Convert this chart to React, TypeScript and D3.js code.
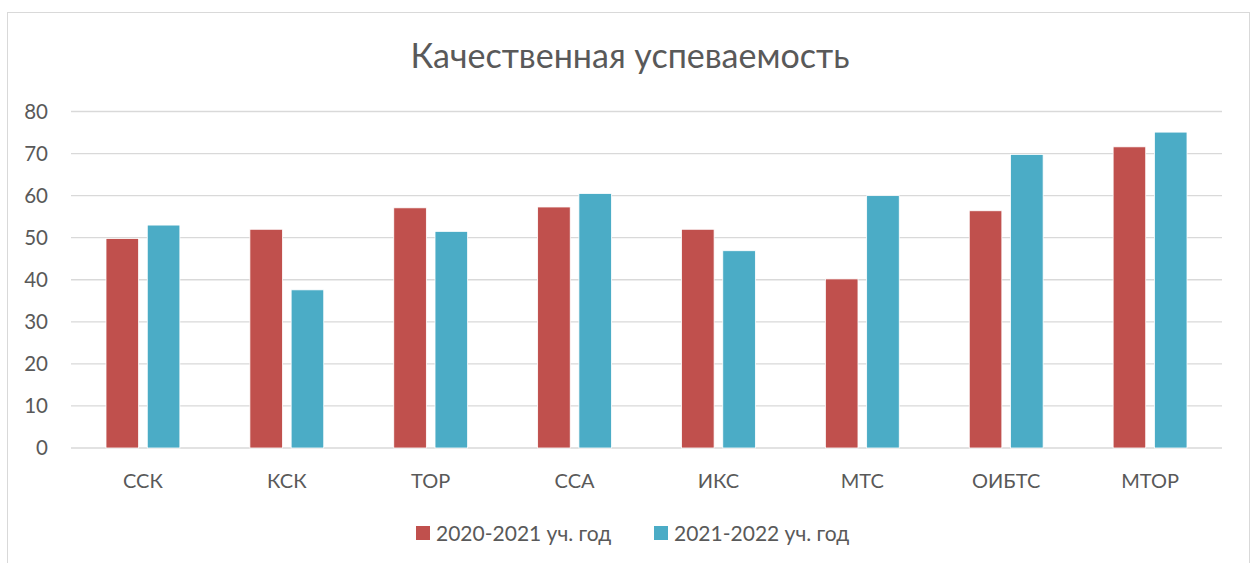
import React, { useEffect, useRef } from 'react';
import * as d3 from 'd3';

const categories = ['ССК', 'КСК', 'ТОР', 'ССА', 'ИКС', 'МТС', 'ОИБТС', 'МТОР'];
const series2020 = [49.8, 52, 57.1, 57.3, 52, 40.2, 56.4, 71.6];
const series2021 = [53, 37.6, 51.5, 60.5, 46.9, 60, 69.8, 75.1];
const seriesNames = ['2020-2021 уч. год', '2021-2022 уч. год'];
const yTicks = [0, 10, 20, 30, 40, 50, 60, 70, 80];
const title = 'Качественная успеваемость';

const width = 1251;
const height = 563;
const colors = ['#C0504D', '#4BACC6'];
const textColor = '#595959';
const font = 'Lato, "Open Sans", sans-serif';

export default function App() {
  const ref = useRef<SVGSVGElement | null>(null);

  useEffect(() => {
    const svg = d3.select(ref.current);
    svg.selectAll('*').remove();

    // chart frame
    svg
      .append('rect')
      .attr('x', 7.5)
      .attr('y', 12.5)
      .attr('width', 1242)
      .attr('height', 600)
      .attr('fill', '#fff')
      .attr('stroke', '#d9d9d9');

    const x = d3.scaleBand<string>().domain(categories).range([71, 1222]);
    const y = d3.scaleLinear().domain([0, 80]).range([448, 111.5]);
    const inner = d3
      .scaleBand<number>()
      .domain([0, 1])
      .range([35, x.bandwidth() - 35])
      .paddingInner(0.21);

    svg
      .append('text')
      .attr('x', 630)
      .attr('y', 68)
      .attr('text-anchor', 'middle')
      .attr('font-family', font)
      .attr('font-size', 34)
      .attr('fill', textColor)
      .text(title);

    // gridlines
    svg
      .append('g')
      .selectAll('line')
      .data(yTicks)
      .join('line')
      .attr('x1', 71)
      .attr('x2', 1222)
      .attr('y1', (d) => y(d))
      .attr('y2', (d) => y(d))
      .attr('stroke', '#d9d9d9')
      .attr('stroke-width', 1.3);

    svg
      .append('g')
      .selectAll('text')
      .data(yTicks)
      .join('text')
      .attr('x', 48)
      .attr('y', (d) => y(d))
      .attr('dy', '0.36em')
      .attr('text-anchor', 'end')
      .attr('font-family', font)
      .attr('font-size', 20.5)
      .attr('fill', textColor)
      .text((d) => d);

    const allSeries = [series2020, series2021];
    allSeries.forEach((vals, si) => {
      svg
        .append('g')
        .selectAll('rect')
        .data(vals)
        .join('rect')
        .attr('x', (_, i) => (x(categories[i]) ?? 0) + (inner(si) ?? 0))
        .attr('width', inner.bandwidth())
        .attr('y', (d) => y(d))
        .attr('height', (d) => y(0) - y(d))
        .attr('fill', colors[si])
        .attr('stroke', '#fff')
        .attr('stroke-width', 0.8);
    });

    svg
      .append('g')
      .selectAll('text')
      .data(categories)
      .join('text')
      .attr('x', (d) => (x(d) ?? 0) + x.bandwidth() / 2)
      .attr('y', 488)
      .attr('text-anchor', 'middle')
      .attr('font-family', font)
      .attr('font-size', 20)
      .attr('fill', textColor)
      .text((d) => d);

    // legend
    const legendX = [416, 654];
    seriesNames.forEach((name, i) => {
      const g = svg.append('g').attr('transform', `translate(${legendX[i]}, 526)`);
      g.append('rect').attr('width', 14).attr('height', 14).attr('fill', colors[i]);
      g.append('text')
        .attr('x', 20)
        .attr('y', 7)
        .attr('dy', '0.36em')
        .attr('font-family', font)
        .attr('font-size', 21)
        .attr('fill', textColor)
        .text(name);
    });
  }, []);

  return (
    <svg
      ref={ref}
      width={width}
      height={height}
      style={{ position: 'absolute', left: 0, top: 0, display: 'block' }}
    />
  );
}
